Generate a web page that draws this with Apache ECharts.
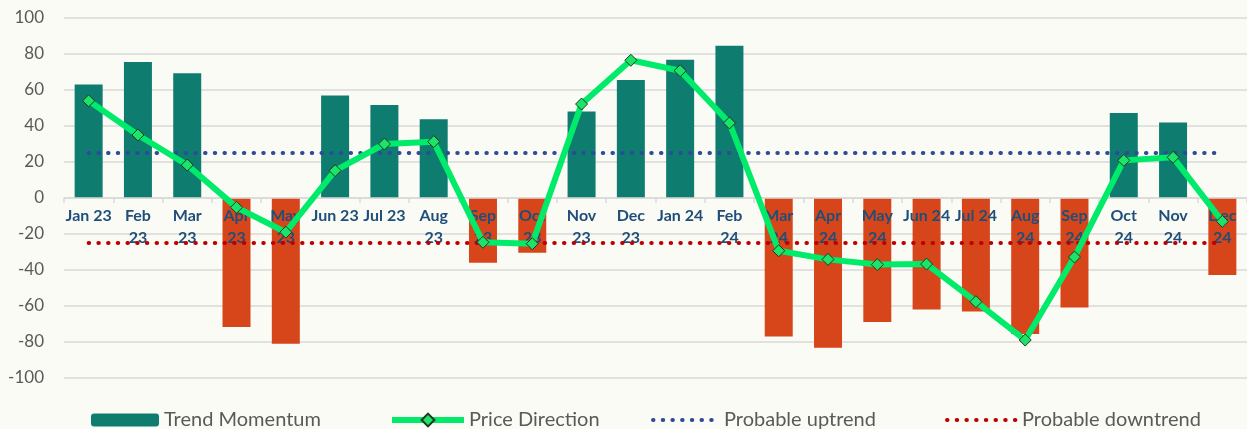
<!DOCTYPE html>
<html>
<head>
<meta charset="utf-8">
<script src="https://cdn.jsdelivr.net/npm/echarts@6/dist/echarts.min.js"></script>
<style>
  html, body { margin: 0; padding: 0; background: #fbfbf6; }
  #chart { width: 1247px; height: 429px; }
</style>
</head>
<body>
<div id="chart"></div>
<script>
// data
const categories = ['Jan 23', 'Feb 23', 'Mar 23', 'Apr 23', 'May 23', 'Jun 23', 'Jul 23', 'Aug 23', 'Sep 23', 'Oct 23', 'Nov 23', 'Dec 23',
  'Jan 24', 'Feb 24', 'Mar 24', 'Apr 24', 'May 24', 'Jun 24', 'Jul 24', 'Aug 24', 'Sep 24', 'Oct 24', 'Nov 24', 'Dec 24']
// how the tick labels wrap in the picture
const tickLabels = ['Jan 23', 'Feb\n23', 'Mar\n23', 'Apr\n23', 'May\n23', 'Jun 23', 'Jul 23', 'Aug\n23', 'Sep\n23', 'Oct\n23', 'Nov\n23', 'Dec\n23',
  'Jan 24', 'Feb\n24', 'Mar\n24', 'Apr\n24', 'May\n24', 'Jun 24', 'Jul 24', 'Aug\n24', 'Sep\n24', 'Oct\n24', 'Nov\n24', 'Dec\n24']
const trendMomentum = [63, 75.5, 69.3, -71.7, -81, 57, 51.7, 43.7, -36, -30.4, 48.1, 65.5,
  76.8, 84.6, -77, -83.2, -68.9, -62, -63.1, -75.6, -60.9, 47.2, 42, -42.8]
const priceDirection = [54, 35, 18.3, -5.2, -19, 15.2, 30, 31.3, -24.6, -25.4, 52.2, 76.5,
  70.7, 41.7, -29.3, -34.1, -37, -36.7, -57.6, -78.9, -32.8, 20.9, 22.6, -13]
const uptrend = categories.map(() => 25)
const downtrend = categories.map(() => -25)
const yTicks = { min: -100, max: 100, step: 20 }

const TEAL = '#0e7c6f'
const ORANGE = '#d6461a'
const GREEN = '#00eb6a'
const BLUE = '#2e4a9a'
const RED = '#c00000'
const FONT = 'Lato, "Open Sans", sans-serif'
const DOTS = [0.5, 9.2]

const chart = echarts.init(document.getElementById('chart'), null, { renderer: 'canvas' })

const legendText = { fontSize: 20, color: '#595959', fontFamily: FONT }
const mkLegend = (item, left, w, h) => ({
  data: [item],
  left: left,
  top: 405,
  itemWidth: w,
  itemHeight: h || 14,
  textStyle: legendText,
  selectedMode: false
})

const option = {
  backgroundColor: '#fbfbf6',
  animation: false,
  legend: [
    mkLegend('Trend Momentum', 86, 68, 13),
    mkLegend({ name: 'Price Direction', lineStyle: { width: 6 } }, 384, 72, 16),
    mkLegend({ name: 'Probable uptrend', itemStyle: { opacity: 0 }, lineStyle: { width: 4, type: DOTS, cap: 'round' } }, 646, 66),
    mkLegend({ name: 'Probable downtrend', itemStyle: { opacity: 0 }, lineStyle: { width: 4, type: DOTS, cap: 'round' } }, 940, 70)
  ],
  grid: { left: 64, top: 18, width: 1190, height: 360 },
  xAxis: {
    type: 'category',
    data: categories,
    z: 3,
    offset: -180, // sits on the zero line
    axisLine: { onZero: false, lineStyle: { color: '#d9d9d9', width: 1.5 } },
    axisTick: { show: true, length: 5, lineStyle: { color: '#d9d9d9', width: 1.5 } },
    axisLabel: {
      interval: 0,
      margin: 7,
      fontFamily: FONT,
      fontWeight: 'bold',
      fontSize: 16,
      lineHeight: 22,
      color: '#1f4e79',
      formatter: (v, i) => tickLabels[i]
    },
    splitLine: { show: false }
  },
  yAxis: {
    type: 'value',
    min: yTicks.min,
    max: yTicks.max,
    interval: yTicks.step,
    axisLine: { show: false },
    axisTick: { show: false },
    axisLabel: { fontFamily: FONT, fontSize: 17, color: '#595959', margin: 20 },
    splitLine: { lineStyle: { color: '#d9d9d9', width: 1.5 } }
  },
  series: [
    {
      name: 'Trend Momentum',
      type: 'bar',
      barWidth: 28,
      z: 2,
      itemStyle: { color: TEAL },
      data: trendMomentum.map(v => v < 0 ? { value: v, itemStyle: { color: ORANGE } } : v)
    },
    {
      name: 'Price Direction',
      type: 'line',
      z: 5,
      data: priceDirection,
      symbol: 'diamond',
      symbolSize: 12,
      lineStyle: { color: GREEN, width: 6 },
      itemStyle: { color: '#1ee36b', borderColor: '#1c3a1c', borderWidth: 1 }
    },
    {
      name: 'Probable uptrend',
      type: 'line',
      z: 4,
      data: uptrend,
      symbol: 'none',
      itemStyle: { color: BLUE },
      lineStyle: { color: BLUE, width: 4, type: DOTS, cap: 'round' }
    },
    {
      name: 'Probable downtrend',
      type: 'line',
      z: 4,
      data: downtrend,
      symbol: 'none',
      itemStyle: { color: RED },
      lineStyle: { color: RED, width: 4, type: DOTS, cap: 'round' }
    }
  ]
}

option && chart.setOption(option)
</script>
</body>
</html>
